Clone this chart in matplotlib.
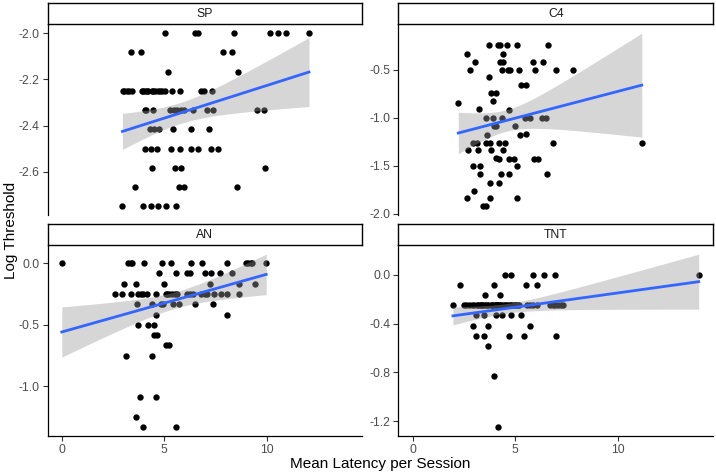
"""Faceted scatter of log threshold against mean latency, with lm fits."""

import matplotlib
import matplotlib.pyplot as plt
import numpy as np
from matplotlib.ticker import FormatStrFormatter, MultipleLocator

matplotlib.use("Agg")
plt.rcParams["font.family"] = ["Liberation Sans", "DejaVu Sans"]

# ---- data (overlapping points included) ----
sp_x = [5.02, 6.5, 6.63, 8.41, 10.16, 10.57, 10.96, 12.07,
        3.38, 3.85, 7.89, 8.33,
        5.17, 8.6,
        2.99, 3.05, 3.2, 3.3, 3.41, 3.9, 3.95, 4.07, 4.15, 4.23, 4.39, 4.47, 4.55, 4.72, 4.8, 4.88,
        5.04, 5.4, 5.77, 6.78, 6.94, 7.33,
        4.05, 4.1, 4.47, 5.27, 5.48, 5.64, 5.8, 5.97, 6.42, 7.07, 7.37, 9.54, 9.85,
        4.29, 4.5, 4.73, 5.45, 6.29, 7.17,
        4.05, 4.34, 4.67, 5.33, 5.77, 6.29, 6.63, 7.27, 7.64,
        4.39, 5.54, 5.82, 9.9,
        3.56, 5.74, 5.97, 8.55,
        2.96, 3.97, 4.36, 4.7, 5.11, 5.58]
sp_y = [-2.0, -2.0, -2.0, -2.0, -2.0, -2.0, -2.0, -2.0,
        -2.083, -2.083, -2.083, -2.083,
        -2.167, -2.167,
        -2.25, -2.25, -2.25, -2.25, -2.25, -2.25, -2.25, -2.25, -2.25, -2.25, -2.25, -2.25, -2.25, -2.25, -2.25, -2.25,
        -2.25, -2.25, -2.25, -2.25, -2.25, -2.25,
        -2.333, -2.333, -2.333, -2.333, -2.333, -2.333, -2.333, -2.333, -2.333, -2.333, -2.333, -2.333, -2.333,
        -2.417, -2.417, -2.417, -2.417, -2.417, -2.417,
        -2.5, -2.5, -2.5, -2.5, -2.5, -2.5, -2.5, -2.5, -2.5,
        -2.583, -2.583, -2.583, -2.583,
        -2.667, -2.667, -2.667, -2.667,
        -2.75, -2.75, -2.75, -2.75, -2.75, -2.75]

c4_x = [2.22, 2.67, 2.78, 3.06, 3.71, 4.16, 4.27, 4.6, 5.08, 6.6,
        4.38, 4.27, 4.38, 5.85, 6.36, 4.37, 4.66, 4.76, 5.21, 5.95, 6.97, 7.83,
        3.72, 3.82, 4.05, 3.92, 5.29, 5.53, 3.24, 4.68,
        3.59, 3.92, 4.37, 5.5, 5.7, 6.33, 6.52, 3.98, 4.06, 5.0,
        3.62, 5.24, 5.55, 2.95, 3.14, 3.56, 3.75, 4.19, 4.48, 6.83, 11.18,
        2.69, 3.19, 3.84, 4.4, 4.05, 4.21, 4.69, 4.95, 5.9, 6.1,
        2.94, 3.26, 5.1, 3.27, 4.33, 4.69, 6.54, 3.77, 4.22,
        2.97, 2.67, 3.75, 5.08, 3.43, 3.56]
c4_y = [-0.844, -0.333, -0.5, -0.418, -0.245, -0.245, -0.245, -0.245, -0.245, -0.245,
        -0.333, -0.418, -0.418, -0.418, -0.418, -0.5, -0.5, -0.5, -0.5, -0.5, -0.5, -0.5,
        -0.578, -0.745, -0.745, -0.83, -0.663, -0.663, -0.91, -0.918,
        -1.0, -1.0, -1.0, -1.0, -1.0, -1.0, -1.0, -1.09, -1.09, -1.09,
        -1.18, -1.18, -1.17, -1.26, -1.26, -1.26, -1.26, -1.26, -1.26, -1.26, -1.26,
        -1.34, -1.34, -1.34, -1.34, -1.42, -1.43, -1.43, -1.43, -1.43, -1.43,
        -1.505, -1.505, -1.505, -1.59, -1.59, -1.59, -1.59, -1.677, -1.677,
        -1.76, -1.84, -1.84, -1.84, -1.925, -1.925]

an_x = [0.0, 3.24, 3.37, 3.45, 4.02, 4.88, 5.35, 6.29, 6.85, 8.08, 8.98, 9.09, 9.22, 9.3, 9.98,
        4.76, 5.59, 6.13, 6.26, 7.01, 7.3, 7.74, 8.31,
        3.04, 3.61, 4.99, 7.22, 8.63, 9.41,
        2.62, 2.93, 3.4, 3.74, 3.85, 3.98, 4.18, 4.6, 5.07, 5.15, 5.24, 5.4, 5.53, 5.61,
        6.13, 6.26, 6.42, 6.78, 6.98, 7.07, 7.43, 7.79, 8.08, 8.67,
        3.69, 4.39, 4.83, 4.96, 5.43, 5.74, 6.5, 7.4,
        4.59, 8.08,
        3.74, 4.23, 4.5,
        4.5, 4.67,
        5.07, 5.24,
        3.12, 4.42,
        3.82, 4.6,
        3.61,
        3.98, 5.56]
an_y = [0.0, 0.0, 0.0, 0.0, 0.0, 0.0, 0.0, 0.0, 0.0, 0.0, 0.0, 0.0, 0.0, 0.0, 0.0,
        -0.083, -0.083, -0.083, -0.083, -0.083, -0.083, -0.083, -0.083,
        -0.167, -0.167, -0.167, -0.167, -0.167, -0.167,
        -0.25, -0.25, -0.25, -0.25, -0.25, -0.25, -0.25, -0.25, -0.25, -0.25, -0.25, -0.25, -0.25, -0.25,
        -0.25, -0.25, -0.25, -0.25, -0.25, -0.25, -0.25, -0.25, -0.25, -0.25,
        -0.333, -0.333, -0.333, -0.333, -0.333, -0.333, -0.333, -0.333,
        -0.417, -0.417,
        -0.5, -0.5, -0.5,
        -0.583, -0.583,
        -0.667, -0.667,
        -0.75, -0.75,
        -1.083, -1.083,
        -1.25,
        -1.333, -1.333]

tnt_x = [4.51, 4.81, 5.89, 6.39, 6.94, 13.96,
         2.31, 3.95, 5.55, 6.05,
         3.54, 4.24,
         1.96, 2.49, 2.62, 2.75, 2.88, 3.01, 3.14, 3.2, 3.27,
         3.34, 3.4, 3.45, 3.53, 3.6, 3.67, 3.8, 3.87, 3.93, 4.0, 4.04, 4.08, 4.12, 4.16, 4.2, 4.24,
         4.32, 4.4, 4.48, 4.56, 4.65, 4.73, 4.81, 4.89, 4.97, 5.05, 5.13, 5.21,
         5.57, 5.73, 5.89, 6.05,
         6.7, 6.83, 6.96, 7.09, 7.22, 7.35,
         3.11, 3.48, 4.05, 4.37, 4.81, 5.29,
         2.93, 3.67, 5.7,
         3.11, 3.48, 4.72, 5.45, 6.97,
         3.67,
         3.96,
         4.14]
tnt_y = [0.0, 0.0, 0.0, 0.0, 0.0, 0.0,
         -0.083, -0.083, -0.083, -0.083,
         -0.167, -0.167,
         -0.25, -0.25, -0.25, -0.25, -0.25, -0.25, -0.25, -0.25, -0.25,
         -0.25, -0.25, -0.25, -0.25, -0.25, -0.25, -0.25, -0.25, -0.25, -0.25, -0.25, -0.25, -0.25, -0.25, -0.25, -0.25,
         -0.25, -0.25, -0.25, -0.25, -0.25, -0.25, -0.25, -0.25, -0.25, -0.25, -0.25, -0.25,
         -0.25, -0.25, -0.25, -0.25,
         -0.25, -0.25, -0.25, -0.25, -0.25, -0.25,
         -0.333, -0.333, -0.333, -0.333, -0.333, -0.333,
         -0.417, -0.417, -0.417,
         -0.5, -0.5, -0.5, -0.5, -0.5,
         -0.583,
         -0.833,
         -1.25]

facet_names = ["SP", "C4", "AN", "TNT"]
facet_x = [sp_x, c4_x, an_x, tnt_x]
facet_y = [sp_y, c4_y, an_y, tnt_y]
y_steps = [0.2, 0.5, 0.5, 0.4]
x_ticks = [0, 5, 10]

W, H = 716, 473
# panel boxes in pixels: left, top, right, bottom
boxes = [(47.5, 24.5, 362, 215), (398.5, 24.5, 713, 215),
         (47.5, 245.5, 362, 436), (398.5, 245.5, 713, 436)]
STRIP_H = 21


def lm_band(x, y, n=80):
    """Least-squares line with a 95% confidence band, like geom_smooth(method='lm')."""
    x = np.asarray(x, dtype=float)
    y = np.asarray(y, dtype=float)
    slope, icpt = np.polyfit(x, y, 1)
    xs = np.linspace(x.min(), x.max(), n)
    dof = len(x) - 2
    resid = y - (icpt + slope * x)
    s = np.sqrt(np.sum(resid ** 2) / dof)
    se = s * np.sqrt(1 / len(x) + (xs - x.mean()) ** 2 / np.sum((x - x.mean()) ** 2))
    z = 1.959964
    t = z + (z ** 3 + z) / (4 * dof) + (5 * z ** 5 + 16 * z ** 3 + 3 * z) / (96 * dof ** 2)
    fit = icpt + slope * xs
    return xs, fit, fit - t * se, fit + t * se


fig = plt.figure(figsize=(W / 100, H / 100), dpi=100)
axes = []
for i, (l, t, r, b) in enumerate(boxes):
    share = axes[0] if axes else None
    ax = fig.add_axes([l / W, 1 - b / H, (r - l) / W, (b - t) / H], sharex=share)
    axes.append(ax)

    ax.scatter(facet_x[i], facet_y[i], s=21, color="black", linewidths=0, zorder=2)
    xs, fit, lo, hi = lm_band(facet_x[i], facet_y[i])
    ax.fill_between(xs, lo, hi, color="#999999", alpha=0.4, linewidth=0, zorder=3)
    ax.plot(xs, fit, color="#3366FF", lw=2.0, zorder=4)

    ax.set_facecolor("white")
    ax.spines["top"].set_visible(False)
    ax.spines["right"].set_visible(False)
    for sp in ("left", "bottom"):
        ax.spines[sp].set_linewidth(0.9)
        ax.spines[sp].set_color("black")
    ax.yaxis.set_major_locator(MultipleLocator(y_steps[i]))
    ax.yaxis.set_major_formatter(FormatStrFormatter("%.1f"))
    ax.tick_params(axis="both", length=3.5, width=0.8, color="#333333",
                   labelsize=8.8, labelcolor="#4D4D4D", pad=2)
    if i < 2:
        ax.spines["bottom"].set_visible(False)
        ax.tick_params(axis="x", bottom=False, labelbottom=False)
    else:
        ax.set_xticks(x_ticks)

    # facet strip
    sax = fig.add_axes([l / W, 1 - t / H, (r - l) / W, STRIP_H / H])
    sax.set_xticks([])
    sax.set_yticks([])
    for sp in sax.spines.values():
        sp.set_linewidth(1.0)
        sp.set_color("black")
    sax.text(0.5, 0.5, facet_names[i], ha="center", va="center",
             fontsize=8.8, color="#1A1A1A", transform=sax.transAxes)

fig.text(380 / W, 1 - 464 / H, "Mean Latency per Session", ha="center", va="center",
         fontsize=11, color="black")
fig.text(11 / W, 1 - 230 / H, "Log Threshold", ha="center", va="center",
         rotation=90, fontsize=11, color="black")

fig.savefig("out.png", dpi=100, facecolor="white")
